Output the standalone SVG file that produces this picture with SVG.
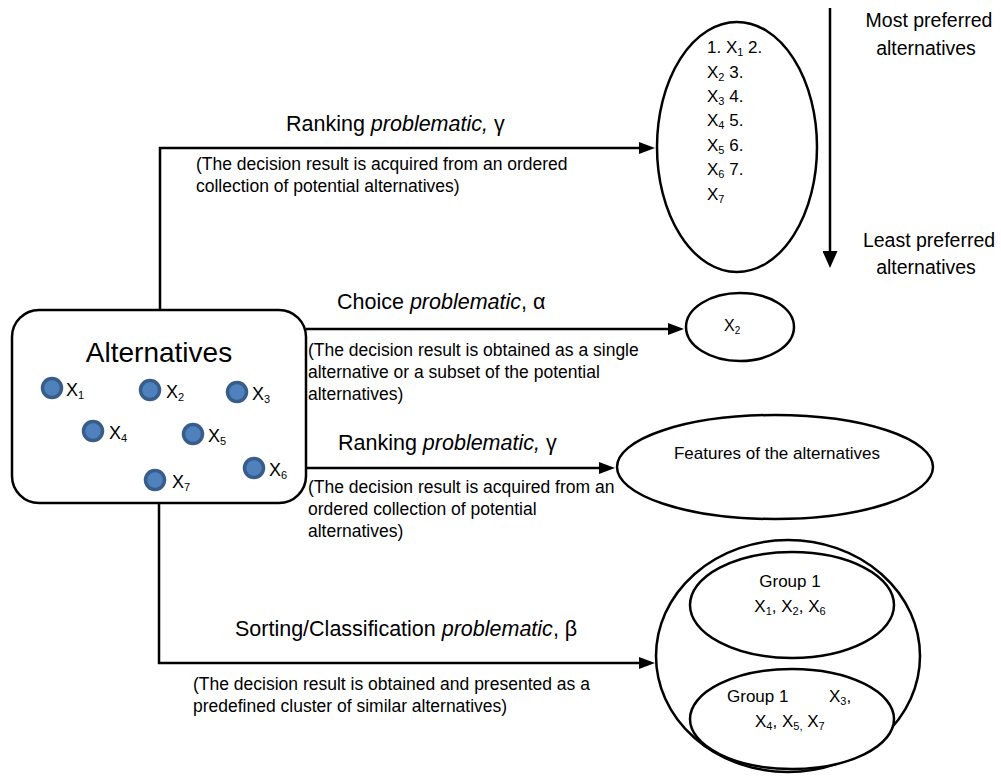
<svg xmlns="http://www.w3.org/2000/svg" width="1001" height="782" viewBox="0 0 1001 782">
<style>
text{font-family:"Liberation Sans",Arial,sans-serif;fill:#000}
.shape{fill:#fff;stroke:#000;stroke-width:2.5}
.conn{fill:none;stroke:#000;stroke-width:2.5}
.title{font-size:21.5px}
.desc{font-size:17.5px}
.lbl{font-size:18px}
.lst{font-size:17px}
.dot{fill:#4f81bd;stroke:#385d8a;stroke-width:3.5}
.it{font-style:italic}
</style>
<defs>
<marker id="arr" markerWidth="16" markerHeight="12" refX="1" refY="6" orient="auto" markerUnits="userSpaceOnUse"><path d="M0,0 L16,6 L0,12 z" fill="#000"/></marker>
<marker id="arrV" markerWidth="17" markerHeight="15" refX="1" refY="7.5" orient="auto" markerUnits="userSpaceOnUse"><path d="M0,0 L17,7.5 L0,15 z" fill="#000"/></marker>
</defs>
<rect width="1001" height="782" fill="#fff"/>

<g id="connectors">
<path class="conn" d="M160,310 V148 H640" marker-end="url(#arr)"/>
<path class="conn" d="M306,329 H669" marker-end="url(#arr)"/>
<path class="conn" d="M306,468 H600" marker-end="url(#arr)"/>
<path class="conn" d="M159,503 V663 H640" marker-end="url(#arr)"/>
</g>

<g id="edge-labels">
<text class="title" x="286" y="131">Ranking <tspan class="it">problematic,</tspan> γ</text>
<text class="desc" x="196" y="170">(The decision result is acquired from an ordered</text>
<text class="desc" x="196" y="192">collection of potential alternatives)</text>

<text class="title" x="337" y="309">Choice <tspan class="it">problematic</tspan>, α</text>
<text class="desc" x="308" y="356">(The decision result is obtained as a single</text>
<text class="desc" x="308" y="378">alternative or a subset of the potential</text>
<text class="desc" x="308" y="400">alternatives)</text>

<text class="title" x="338" y="450">Ranking <tspan class="it">problematic,</tspan> γ</text>
<text class="desc" x="308" y="493">(The decision result is acquired from an</text>
<text class="desc" x="308" y="515">ordered collection of potential</text>
<text class="desc" x="308" y="537">alternatives)</text>

<text class="title" x="235" y="636">Sorting/Classification <tspan class="it">problematic</tspan>, β</text>
<text class="desc" x="193" y="690">(The decision result is obtained and presented as a</text>
<text class="desc" x="193" y="712">predefined cluster of similar alternatives)</text>
</g>

<g id="node-alternatives">
<rect class="shape" x="12" y="310" width="294" height="193" rx="27" ry="27"/>
<text x="159" y="362" font-size="28" text-anchor="middle">Alternatives</text>
<circle class="dot" cx="52" cy="388" r="9.5"/>
<text class="lbl" x="66" y="396">X<tspan font-size="11" dy="3">1</tspan></text>
<circle class="dot" cx="150" cy="390" r="9.5"/>
<text class="lbl" x="166" y="398">X<tspan font-size="11" dy="3">2</tspan></text>
<circle class="dot" cx="237" cy="392" r="9.5"/>
<text class="lbl" x="252" y="400">X<tspan font-size="11" dy="3">3</tspan></text>
<circle class="dot" cx="93" cy="431" r="9.5"/>
<text class="lbl" x="109" y="439">X<tspan font-size="11" dy="3">4</tspan></text>
<circle class="dot" cx="193" cy="434" r="9.5"/>
<text class="lbl" x="208" y="442">X<tspan font-size="11" dy="3">5</tspan></text>
<circle class="dot" cx="254" cy="468" r="9.5"/>
<text class="lbl" x="269" y="476">X<tspan font-size="11" dy="3">6</tspan></text>
<circle class="dot" cx="155" cy="480" r="9.5"/>
<text class="lbl" x="172" y="488">X<tspan font-size="11" dy="3">7</tspan></text>
</g>

<g id="node-ranking">
<ellipse class="shape" cx="737" cy="147" rx="80" ry="125"/>
<text class="lst" x="707" y="53">1. X<tspan font-size="11" dy="3">1</tspan><tspan dy="-3"> 2.</tspan></text>
<text class="lst" x="707" y="78">X<tspan font-size="11" dy="3">2</tspan><tspan dy="-3"> 3.</tspan></text>
<text class="lst" x="707" y="102">X<tspan font-size="11" dy="3">3</tspan><tspan dy="-3"> 4.</tspan></text>
<text class="lst" x="707" y="126">X<tspan font-size="11" dy="3">4</tspan><tspan dy="-3"> 5.</tspan></text>
<text class="lst" x="707" y="151">X<tspan font-size="11" dy="3">5</tspan><tspan dy="-3"> 6.</tspan></text>
<text class="lst" x="707" y="175">X<tspan font-size="11" dy="3">6</tspan><tspan dy="-3"> 7.</tspan></text>
<text class="lst" x="707" y="200">X<tspan font-size="11" dy="3">7</tspan></text>
</g>

<g id="preference-scale">
<path class="conn" d="M830,8 V252" marker-end="url(#arrV)"/>
<text x="929" y="27" font-size="19.5" text-anchor="middle">Most preferred</text>
<text x="926" y="55" font-size="19.5" text-anchor="middle">alternatives</text>
<text x="929" y="247" font-size="19.5" text-anchor="middle">Least preferred</text>
<text x="926" y="274" font-size="19.5" text-anchor="middle">alternatives</text>
</g>

<g id="node-choice">
<ellipse class="shape" cx="740" cy="327" rx="54" ry="34"/>
<text x="724" y="331" font-size="16">X<tspan font-size="10" dy="3">2</tspan></text>
</g>

<g id="node-features">
<ellipse class="shape" cx="775" cy="467" rx="158" ry="52"/>
<text x="777" y="459" font-size="17" text-anchor="middle">Features of the alternatives</text>
</g>

<g id="node-sorting">
<ellipse class="shape" cx="788" cy="656" rx="132" ry="116"/>
<ellipse class="shape" cx="792" cy="605" rx="102" ry="53"/>
<ellipse class="shape" cx="792" cy="719" rx="102" ry="50"/>
<text x="790" y="587" font-size="17" text-anchor="middle">Group 1</text>
<text x="790" y="612" font-size="17" text-anchor="middle">X<tspan font-size="11" dy="3">1</tspan><tspan dy="-3">, X</tspan><tspan font-size="11" dy="3">2</tspan><tspan dy="-3">, X</tspan><tspan font-size="11" dy="3">6</tspan></text>
<text x="727" y="702" font-size="17">Group 1</text>
<text x="829" y="702" font-size="17">X<tspan font-size="11" dy="3">3</tspan><tspan dy="-3">,</tspan></text>
<text x="755" y="727" font-size="17">X<tspan font-size="11" dy="3">4</tspan><tspan dy="-3">, X</tspan><tspan font-size="11" dy="3">5,</tspan><tspan dy="-3"> X</tspan><tspan font-size="11" dy="3">7</tspan></text>
</g>
</svg>
